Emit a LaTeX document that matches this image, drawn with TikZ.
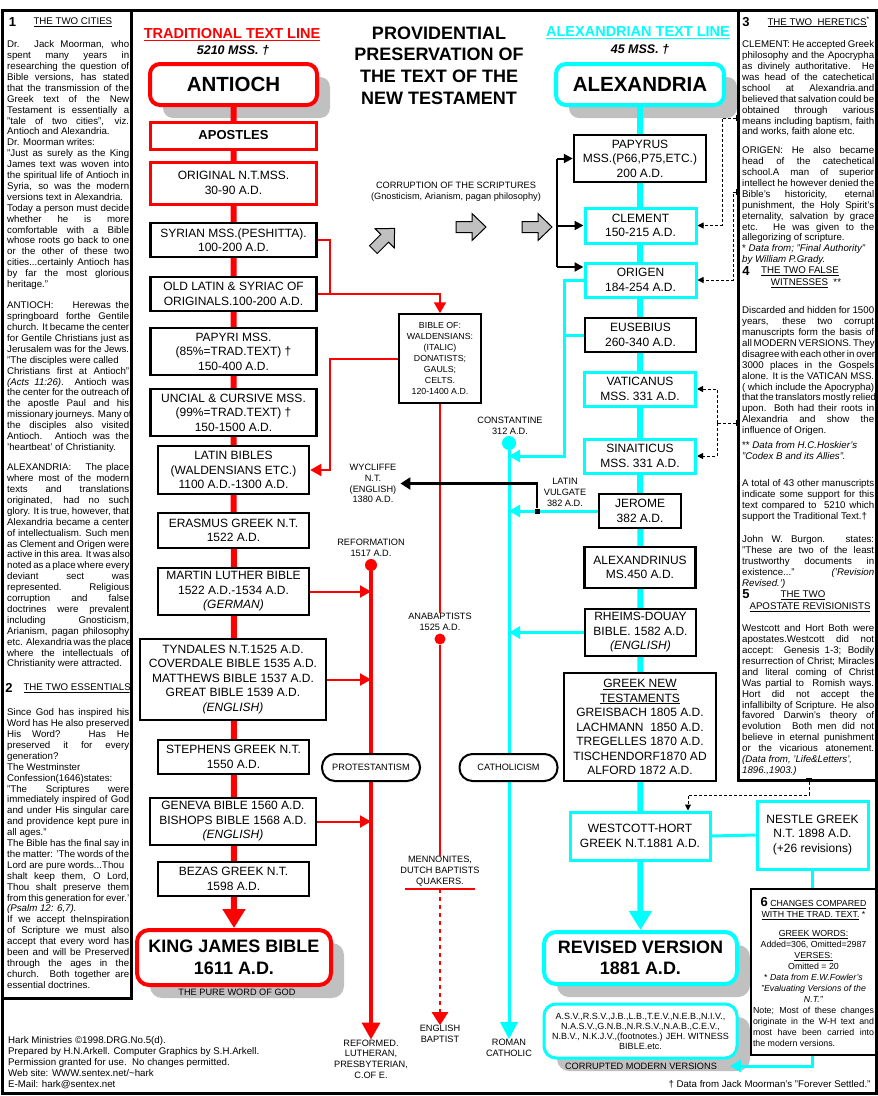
\documentclass[tikz,border=0pt]{standalone}
\usepackage{fontspec}
\setmainfont{Liberation Sans}
\usepackage{xcolor}
\definecolor{tred}{HTML}{FF0000}
\definecolor{tcyan}{HTML}{00FFFF}
\definecolor{shade}{HTML}{C0C0C0}
\usetikzlibrary{arrows.meta,shadows}
\newcommand{\hdf}{\fontsize{14.5}{17}\selectfont\bfseries}
\newcommand{\mssf}{\fontsize{12.5}{15}\selectfont\bfseries\itshape}
\newcommand{\ttlf}{\fontsize{18}{21.7}\selectfont\bfseries}
\newcommand{\citf}{\fontsize{20.5}{24}\selectfont\bfseries}
\newcommand{\kjbf}{\fontsize{18}{21.5}\selectfont\bfseries}
\newcommand{\bxf}{\fontsize{12}{14.5}\selectfont}
\newcommand{\smf}{\fontsize{9.2}{10.7}\selectfont}
\newcommand{\colf}{\fontsize{9.7}{10.9}\selectfont}
\newcommand{\notef}{\fontsize{8.8}{11}\selectfont}
\newcommand{\numf}{\fontsize{13}{13}\selectfont\bfseries}
\newcommand{\asvf}{\fontsize{9}{10}\selectfont}
\newcommand{\jl}[1]{\makebox[122pt][s]{#1}}
\newcommand{\jr}[1]{\makebox[132pt][s]{#1}}
\newcommand{\jb}[1]{\makebox[121pt][s]{#1}}
\tikzset{
  >={Triangle[length=11pt,width=12pt]},
  rbox/.style   ={draw=tred,line width=3pt,fill=white,font=\bxf,align=center,inner sep=0pt},
  kbox/.style   ={draw=black,line width=2.5pt,fill=white,font=\bxf,align=center,inner sep=0pt},
  cbox/.style   ={draw=tcyan,line width=3pt,fill=white,font=\bxf,align=center,inner sep=0pt},
  thinbox/.style={draw=black,line width=1.5pt,fill=white,font=\smf,align=center,inner sep=0pt},
  city/.style   ={line width=4pt,fill=white,rounded corners=10pt,font=\citf,align=center,inner sep=0pt,
                  drop shadow={shadow xshift=13pt,shadow yshift=-13pt,fill=shade,opacity=1}},
  wide/.style   ={minimum width=166pt},
  narrow/.style ={minimum width=151pt},
  lbl/.style    ={font=\smf,align=center,inner sep=0pt},
  coltxt/.style ={font=\colf,align=left,inner sep=0pt,anchor=north west},
  church/.style ={draw=black,line width=2pt,fill=white,rounded corners=13pt,font=\smf,
                  minimum width=98pt,minimum height=27pt,inner sep=0pt},
  notebox/.style={draw=black,line width=1.5pt,fill=white,minimum width=125pt,minimum height=166pt,
                  inner sep=0pt,font=\notef,align=center},
  rdot/.style   ={circle,fill=tred,inner sep=0pt},
  blip/.style   ={fill=black,minimum width=4pt,minimum height=6pt,inner sep=0pt},
  rline/.style  ={draw=tred,line width=2pt},
  rthick/.style ={draw=tred,line width=3.5pt,-{Triangle[length=17pt,width=18pt]}},
  cline/.style  ={draw=tcyan,line width=3pt},
  kline/.style  ={draw=black,line width=2pt},
  dline/.style  ={draw=black,line width=1pt,dash pattern=on 3pt off 2pt,-{Triangle[length=6pt,width=6pt]}},
  trunk/.style  ={line width=6pt,-{Triangle[length=19pt,width=22pt]}},
  edgeline/.style={draw=black,line width=3pt},
  garrow/.pic={\draw[black,fill=shade,line width=1pt] (-15,-5.5) -- (1,-5.5) -- (1,-13.5) -- (15,0)
               -- (1,13.5) -- (1,5.5) -- (-15,5.5) -- cycle;},
}
\begin{document}
\begin{tikzpicture}[x=1pt,y=-1pt]
\useasboundingbox (0,0) rectangle (878,1096);
% headings
\node[font=\hdf,text=tred,anchor=base] (tradhd) at (232,38.3) {\underline{TRADITIONAL TEXT LINE}};
\node[font=\mssf,anchor=base] (tradmss) at (233,54.5) {5210 MSS. †};
\node[font=\ttlf,align=center] (title) at (439,65.5) {PROVIDENTIAL\\PRESERVATION OF\\THE TEXT OF THE\\NEW TESTAMENT};
\node[font=\hdf,text=tcyan,anchor=base] (alexhd) at (638,36.3) {\underline{ALEXANDRIAN TEXT LINE}};
\node[font=\mssf,anchor=base] (alexmss) at (640,53) {45 MSS. †};
% traditional line
\node[city,draw=tred,minimum width=167pt,minimum height=41pt] (antioch) at (233.5,84.5) {ANTIOCH};
\node[city,draw=tred,font=\kjbf,minimum width=194pt,minimum height=55pt,rounded corners=12pt] (kjb) at (234,957.5) {KING JAMES BIBLE\\1611 A.D.};
\draw[trunk,draw=tred] (antioch.south) -- (kjb.north);
\node[rbox,wide,minimum height=27pt,font=\fontsize{13}{15}\selectfont\bfseries] (apos) at (233.5,135.5) {APOSTLES};
\node[rbox,wide,minimum height=42pt] (orig) at (233.5,183) {ORIGINAL N.T.MSS.\\30-90 A.D.};
\node[kbox,wide,minimum height=34pt] (syr) at (233.5,240) {SYRIAN MSS.(PESHITTA).\\100-200 A.D.};
\node[kbox,wide,minimum height=34pt] (olt) at (233.5,294) {OLD LATIN \& SYRIAC OF\\ORIGINALS.100-200 A.D.};
\node[kbox,wide,minimum height=47pt] (papi) at (233.5,351.5) {PAPYRI MSS.\\(85\%=TRAD.TEXT) †\\150-400 A.D.};
\node[kbox,wide,minimum height=47pt] (unc) at (233.5,412.5) {UNCIAL \& CURSIVE MSS.\\(99\%=TRAD.TEXT) †\\150-1500 A.D.};
\node[kbox,narrow,minimum height=48pt] (lat) at (233.5,470) {LATIN BIBLES\\(WALDENSIANS ETC.)\\1100 A.D.-1300 A.D.};
\node[kbox,narrow,minimum height=35pt] (eras) at (233.5,530.5) {ERASMUS GREEK N.T.\\1522 A.D.};
\node[kbox,narrow,minimum height=47pt] (mlb) at (233.5,591.5) {MARTIN LUTHER BIBLE\\1522 A.D.-1534 A.D.\\\textit{(GERMAN)}};
\node[kbox,minimum width=186pt,minimum height=81pt] (tyn) at (233,679.5) {TYNDALES N.T.1525 A.D.\\COVERDALE BIBLE 1535 A.D.\\MATTHEWS BIBLE 1537 A.D.\\GREAT BIBLE 1539 A.D.\\\textit{(ENGLISH)}};
\node[kbox,narrow,minimum height=34pt] (steph) at (233.5,757) {STEPHENS GREEK N.T.\\1550 A.D.};
\node[kbox,wide,minimum height=47pt] (gen) at (233,821.5) {GENEVA BIBLE 1560 A.D.\\BISHOPS BIBLE 1568 A.D.\\\textit{(ENGLISH)}};
\node[kbox,narrow,minimum height=34pt] (bez) at (233.5,879) {BEZAS GREEK N.T.\\1598 A.D.};
\node[lbl] (pure) at (237,992) {THE PURE WORD OF GOD};
% alexandrian line
\node[city,draw=tcyan,minimum width=168pt,minimum height=41pt] (alex) at (640,84.5) {ALEXANDRIA};
\node[city,draw=tcyan,font=\kjbf,minimum width=193pt,minimum height=52pt,rounded corners=12pt] (rv) at (640.5,958) {REVISED VERSION\\1881 A.D.};
\draw[trunk,draw=tcyan] (alex.south) -- (rv.north);
\node[kbox,minimum width=132pt,minimum height=47pt] (pap) at (640,158.5) {PAPYRUS\\MSS.(P66,P75,ETC.)\\200 A.D.};
\node[cbox,minimum width=111pt,minimum height=35pt] (clem) at (640.5,225.5) {CLEMENT\\150-215 A.D.};
\node[cbox,minimum width=111pt,minimum height=34pt] (ori) at (640.5,280) {ORIGEN\\184-254 A.D.};
\node[kbox,minimum width=111pt,minimum height=34pt] (eus) at (640.5,335) {EUSEBIUS\\260-340 A.D.};
\node[cbox,minimum width=111pt,minimum height=34pt] (vat) at (640,389) {VATICANUS\\MSS. 331 A.D.};
\node[cbox,minimum width=111pt,minimum height=34pt] (sin) at (640,456) {SINAITICUS\\MSS. 331 A.D.};
\node[kbox,minimum width=82pt,minimum height=34pt] (jer) at (640,511) {JEROME\\382 A.D.};
\node[kbox,minimum width=111pt,minimum height=41pt] (alx) at (640,567.5) {ALEXANDRINUS\\MS.450 A.D.};
\node[kbox,minimum width=111pt,minimum height=47pt] (rd) at (640.5,632.5) {RHEIMS-DOUAY\\BIBLE. 1582 A.D.\\\textit{(ENGLISH)}};
\node[kbox,minimum width=152pt,minimum height=108pt] (gnt) at (640,727) {\underline{GREEK NEW}\\\underline{TESTAMENTS}\\GREISBACH 1805 A.D.\\LACHMANN\ \ 1850 A.D.\\TREGELLES 1870 A.D.\\TISCHENDORF1870 AD\\ALFORD 1872 A.D.};
\node[cbox,minimum width=140pt,minimum height=48pt] (wh) at (640,836) {WESTCOTT-HORT\\GREEK N.T.1881 A.D.};
\node[cbox,minimum width=111pt,minimum height=68pt] (nes) at (812.5,835) {NESTLE GREEK\\N.T. 1898 A.D.\\(+26 revisions)};
\node[city,draw=tcyan,line width=3pt,font=\asvf,minimum width=193pt,minimum height=54pt,rounded corners=12pt] (asv) at (640.5,1031) {A.S.V.,R.S.V.,J.B.,L.B.,T.E.V.,N.E.B.,N.I.V.,\\N.A.S.V.,G.N.B.,N.R.S.V.,N.A.B.,C.E.V.,\\N.B.V., N.K.J.V.,(footnotes.) JEH. WITNESS\\BIBLE.etc.};
\node[lbl] (cmvlbl) at (641,1066) {CORRUPTED MODERN VERSIONS};
% corruption
\node[lbl] (corr) at (456,192) {CORRUPTION OF THE SCRIPTURES\\(Gnosticism, Arianism, pagan philosophy)};
\pic[rotate=45] (ga1) at (384,239) {garrow};
\pic (ga2) at (471,227) {garrow};
\pic (ga3) at (537,227) {garrow};
\coordinate (btop) at (557,158.5);
\coordinate (bbot) at (557,267);
\draw[kline] (btop) -- (bbot);
\draw[kline,-{Triangle[length=9pt,width=9pt]}] (btop) -- (pap.west);
\draw[kline,-{Triangle[length=9pt,width=9pt]}] (btop |- clem.west) -- (clem.west);
\draw[kline,-{Triangle[length=9pt,width=9pt]}] (bbot) -- (bbot -| ori.west);
% side branches of the traditional line
\node[thinbox,minimum width=82pt,minimum height=89pt,font=\fontsize{8.8}{11}\selectfont] (bible) at (440,358.5) {BIBLE OF:\\WALDENSIANS:\\(ITALIC)\\DONATISTS;\\GAULS;\\CELTS.\\120-1400 A.D.};
\coordinate (rbend) at (330,294);
\draw[rline] (syr.east) -| (rbend);
\draw[rline,->] (olt.east) -| (bible.north);
\draw[rline,->] (bible.west) -| (rbend |- lat.east) -- (lat.east);
\node[lbl] (anab) at (440,622) {ANABAPTISTS\\1525 A.D.};
\node[rdot,minimum size=11pt] (anadot) at (440,639) {};
\node[lbl] (menno) at (440,871) {MENNONITES,\\DUTCH BAPTISTS\\QUAKERS.};
\node[lbl] (ebap) at (440,1034) {ENGLISH\\BAPTIST};
\draw[rline] (bible.south) -- (anab.north);
\draw[rline] (anadot) -- (menno.north);
\draw[rline] ([shift={(-35pt,-3pt)}]menno.south) -- ([shift={(35pt,-3pt)}]menno.south);
\draw[rline,line width=2.5pt,dash pattern=on 4pt off 4pt,-{Triangle[length=13pt,width=16pt]}] ([yshift=-3pt]menno.south) -- (ebap.north);
% reformation
\node[lbl] (ref) at (371,548) {REFORMATION\\1517 A.D.};
\node[rdot,minimum size=12pt] (refdot) at (371,565) {};
\node[lbl] (refd) at (371,1059) {REFORMED.\\LUTHERAN,\\PRESBYTERIAN,\\C.OF E.};
\draw[rthick] (refdot) -- (refd.north);
\node[church] (prot) at (371,767.5) {PROTESTANTISM};
\draw[rline,->] (mlb.east) -- (mlb.east -| refdot);
\draw[rline,->] (tyn.east) -- (tyn.east -| refdot);
\draw[rline,->] (gen.east) -- (gen.east -| refdot);
% catholic line
\node[lbl] (const) at (510,426) {CONSTANTINE\\312 A.D.};
\node[circle,fill=tcyan,minimum size=14pt,inner sep=0pt] (cdot) at (509,443) {};
\node[lbl] (rcath) at (509,1048) {ROMAN\\CATHOLIC};
\draw[cline,-{Triangle[length=17pt,width=17pt]}] (cdot) -- (rcath.north);
\node[church] (cath) at (508.5,767.5) {CATHOLICISM};
\coordinate (obend) at (564,456);
\draw[cline,->] (ori.west) -| (obend) -- (obend -| cdot);
\draw[cline] (eus.west) -- (eus.west -| obend);
\draw[cline,->] (jer.west) -- (jer.west -| cdot);
\draw[cline,->] (rd.west) -- (rd.west -| cdot);
\node[lbl] (lv) at (565,492.5) {LATIN\\VULGATE\\382 A.D.};
\node[lbl] (wyc) at (373,483.5) {WYCLIFFE\\N.T.\\(ENGLISH)\\1380 A.D.};
\node[fill=black,minimum size=5pt,inner sep=0pt] (jsq) at (537,511) {};
\draw[kline,line width=2.5pt,-{Triangle[length=10pt,width=12pt]}] (jsq) |- ([xshift=4pt]wyc.east);
% notes to the boxes
\node[blip] (m3) at (738,118) {};
\node[blip] (m3b) at (738,192) {};
\node[blip] (m4) at (738,423) {};
\node[blip,minimum width=6pt,minimum height=4pt] (m5) at (809,780) {};
\coordinate (d3) at (722,0);
\coordinate (d3b) at (733,0);
\coordinate (d4) at (717,423);
\coordinate (d5) at (688,795);
\draw[dline] (m3) -| (d3 |- clem.east) -- (clem.east);
\draw[dline] (m3b) -| (d3b |- ori.east) -- (ori.east);
\draw[dline,-] (m4) -- (d4);
\draw[dline] (d4) |- (vat.east);
\draw[dline] (d4) |- (sin.east);
\draw[dline] (m5) |- (d5) -- (d5 |- wh.north);
% late versions
\draw[cline] (wh.east) -- (nes.west);
\coordinate (cmv) at (730,1066);
\draw[cline,->] (nes.south) |- (cmv);
\node[notebox] (chg) at (813.5,972) {{\numf 6} \underline{CHANGES COMPARED}\\
\underline{WITH THE TRAD. TEXT.} *\\[8pt]
\underline{GREEK WORDS:}\\
Added=306, Omitted=2987\\
\underline{VERSES:}\\
Omitted = 20\\
* \textit{Data from E.W.Fowler's}\\
\textit{"Evaluating Versions of the}\\
\textit{N.T."}\\
\jb{Note; Most of these changes}\\
\jb{originate in the W-H text and}\\
\jb{most have been carried into}\\
\makebox[121pt][l]{the modern versions.}};
% left column
\begin{scope}
\clip (4,12) rectangle (129.5,996);
\node[font=\numf] (c1n) at (12.5,22) {1};
\node[font=\colf,anchor=west] (c1t) at (30,22) {\underline{THE TWO CITIES}};
\node[coltxt] (c1a) at (7,40.5) {\jl{Dr. Jack Moorman, who}\\
\jl{spent many years in}\\
\jl{researching the question of}\\
\jl{Bible versions, has stated}\\
\jl{that the transmission of the}\\
\jl{Greek text of the New}\\
\jl{Testament is essentially a}\\
\jl{"tale of two cities", viz.}\\
Antioch and Alexandria.\\
Dr. Moorman writes:\\
\jl{"Just as surely as the King}\\
\jl{James text was woven into}\\
\jl{the spiritual life of Antioch in}\\
\jl{Syria, so was the modern}\\
versions text in Alexandria.\\
\jl{Today a person must decide}\\
\jl{whether he is more}\\
\jl{comfortable with a Bible}\\
\jl{whose roots go back to one}\\
\jl{or the other of these two}\\
\jl{cities...certainly Antioch has}\\
\jl{by far the most glorious}\\
heritage."};
\node[coltxt] (c1b) at (7,301.5) {\jl{ANTIOCH:\ \ \ \ Herewas the}\\
\jl{springboard forthe Gentile}\\
\jl{church. It became the center}\\
\jl{for Gentile Christians just as}\\
\jl{Jerusalem was for the Jews.}\\
"The disciples were called\\
\jl{Christians first at Antioch"}\\
\jl{\textit{(Acts 11:26)}. Antioch was}\\
\jl{the center for the outreach of}\\
\jl{the apostle Paul and his}\\
\jl{missionary journeys. Many of}\\
\jl{the disciples also visited}\\
\jl{Antioch. Antioch was the}\\
'heartbeat' of Christianity.};
\node[coltxt] (c1c) at (7,463.5) {\jl{ALEXANDRIA:\ \ \ \ The place}\\
\jl{where most of the modern}\\
\jl{texts and translations}\\
\jl{originated, had no such}\\
\jl{glory. It is true, however, that}\\
\jl{Alexandria became a center}\\
\jl{of intellectualism. Such men}\\
\jl{as Clement and Origen were}\\
\jl{active in this area. It was also}\\
\jl{noted as a place where every}\\
\jl{deviant sect was}\\
\jl{represented. Religious}\\
\jl{corruption and false}\\
\jl{doctrines were prevalent}\\
\jl{including Gnosticism,}\\
\jl{Arianism, pagan philosophy}\\
\jl{etc. Alexandria was the place}\\
\jl{where the intellectuals of}\\
Christianity were attracted.};
\node[font=\numf] (c2n) at (9,688) {2};
\node[font=\colf,anchor=west] (c2t) at (20,688) {\underline{THE TWO ESSENTIALS}};
\node[coltxt] (c2a) at (7,708.5) {\jl{Since God has inspired his}\\
\jl{Word has He also preserved}\\
\jl{His Word? Has He}\\
\jl{preserved it for every}\\
generation?\\
The Westminster\\
Confession(1646)states:\\
\jl{"The Scriptures were}\\
\jl{immediately inspired of God}\\
\jl{and under His singular care}\\
\jl{and providence kept pure in}\\
all ages."\\
\jl{The Bible has the final say in}\\
\jl{the matter: 'The words of the}\\
Lord are pure words...Thou\\
\jl{shalt keep them, O Lord,}\\
\jl{Thou shalt preserve them}\\
\jl{from this generation for ever.'}\\
\textit{(Psalm 12: 6,7).}\\
\jl{If we accept theInspiration}\\
\jl{of Scripture we must also}\\
\jl{accept that every word has}\\
\jl{been and will be Preserved}\\
\jl{through the ages in the}\\
\jl{church. Both together are}\\
essential doctrines.};
\end{scope}
\node[coltxt] (hark) at (8,1036.5) {Hark Ministries ©1998.DRG.No.5(d).\\
Prepared by H.N.Arkell. Computer Graphics by S.H.Arkell.\\
Permission granted for use.\ \ No changes permitted.\\
Web site: WWW.sentex.net/\textasciitilde hark\\
E-Mail: hark@sentex.net};
% right column
\begin{scope}
\clip (740,12) rectangle (874.5,778);
\node[font=\numf] (c3n) at (746,22) {3};
\node[font=\colf,anchor=west] (c3t) at (764,22) {\underline{THE TWO\ \ HERETICS}\textsuperscript{*}};
\node[coltxt] (c3a) at (742,40.5) {\jr{CLEMENT: He accepted Greek}\\
\jr{philosophy and the Apocrypha}\\
\jr{as divinely authoritative. He}\\
\jr{was head of the catechetical}\\
\jr{school at Alexandria.and}\\
\jr{believed that salvation could be}\\
\jr{obtained through various}\\
\jr{means including baptism, faith}\\
and works, faith alone etc.};
\node[coltxt] (c3b) at (742,146.5) {\jr{ORIGEN: He also became}\\
\jr{head of the catechetical}\\
\jr{school.A man of superior}\\
\jr{intellect he however denied the}\\
\jr{Bible's historicity, eternal}\\
\jr{punishment, the Holy Spirit's}\\
\jr{eternality, salvation by grace}\\
\jr{etc. He was given to the}\\
allegorizing of scripture.\\
* \textit{Data from; "Final Authority"}\\
\textit{by William P.Grady.}};
\node[font=\numf] (c4n) at (746,271) {4};
\node[font=\colf] (c4t) at (800,271) {\underline{THE TWO FALSE}};
\node[font=\colf] (c4u) at (806,283) {\underline{WITNESSES}\ \ **};
\node[coltxt] (c4a) at (742,306.5) {\jr{Discarded and hidden for 1500}\\
\jr{years, these two corrupt}\\
\jr{manuscripts form the basis of}\\
\jr{all MODERN VERSIONS. They}\\
\jr{disagree with each other in over}\\
\jr{3000 places in the Gospels}\\
\jr{alone. It is the VATICAN MSS.}\\
\jr{( which include the Apocrypha)}\\
\jr{that the translators mostly relied}\\
\jr{upon. Both had their roots in}\\
\jr{Alexandria and show the}\\
influence of Origen.\\[4pt]
** \textit{Data from H.C.Hoskier's}\\
\textit{"Codex B and its Allies".}};
\node[coltxt] (c4b) at (742,479.5) {\jr{A total of 43 other manuscripts}\\
\jr{indicate some support for this}\\
\jr{text compared to\ \ 5210 which}\\
support the Traditional Text.†};
\node[coltxt] (c4c) at (742,535.5) {\jr{John W. Burgon. states:}\\
\jr{"These are two of the least}\\
\jr{trustworthy documents in}\\
\jr{existence..." \textit{('Revision}}\\
\textit{Revised.')}};
\node[font=\numf] (c5n) at (746,594) {5};
\node[font=\colf] (c5t) at (803,595) {\underline{THE TWO}};
\node[font=\colf] (c5u) at (810,607) {\underline{APOSTATE REVISIONISTS}};
\node[coltxt] (c5a) at (742,624.5) {\jr{Westcott and Hort Both were}\\
\jr{apostates.Westcott did not}\\
\jr{accept:\ \ Genesis 1-3; Bodily}\\
\jr{resurrection of Christ; Miracles}\\
\jr{and literal coming of Christ}\\
\jr{Was partial to\ \ Romish ways.}\\
\jr{Hort did not accept the}\\
\jr{infallibilty of Scripture. He also}\\
\jr{favored Darwin's theory of}\\
\jr{evolution\ \ Both men did not}\\
\jr{believe in eternal punishment}\\
\jr{or the vicarious atonement.}\\
\textit{(Data from, 'Life\&Letters',}\\
\textit{1896.,1903.)}};
\end{scope}
\node[font=\colf,anchor=east] (src) at (874,1084) {† Data from Jack Moorman's "Forever Settled."};
% frames
\draw[edgeline] (2,10) rectangle (876,1093);
\draw[edgeline] (131,10) -- (131,998) -- (2,998);
\draw[edgeline] (738,10) -- (738,780) -- (876,780);
\end{tikzpicture}
\end{document}
